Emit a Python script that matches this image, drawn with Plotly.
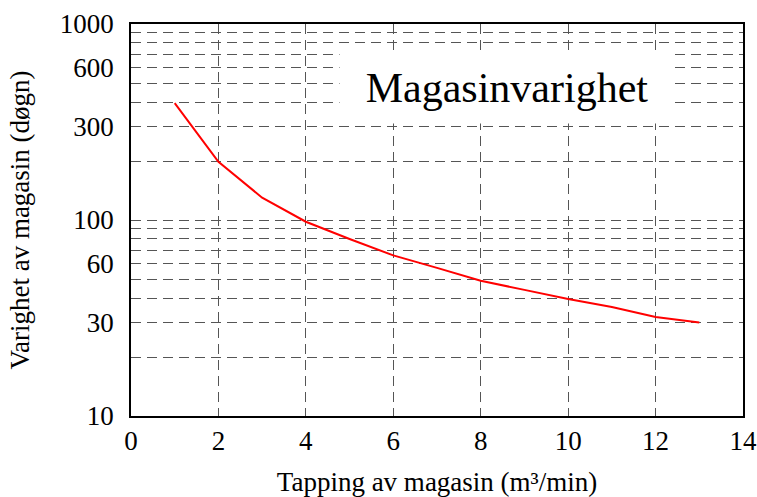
import plotly.graph_objects as go

# Data
tapping = [1, 2, 3, 4, 5, 6, 7, 8, 9, 10, 11, 12, 13]
varighet = [395, 198, 130, 98, 80, 66, 57, 49, 44, 39.5, 36, 32, 30]

y_tickvals = [10, 20, 30, 40, 50, 60, 70, 80, 90,
              100, 200, 300, 400, 500, 600, 700, 800, 900, 1000]
y_ticktext = ["10", "", "30", "", "", "60", "", "", "",
              "100", "", "300", "", "", "600", "", "", "", "1000"]
x_tickvals = [0, 2, 4, 6, 8, 10, 12, 14]

FONT = "Liberation Serif, Times New Roman, serif"

fig = go.Figure()
fig.add_trace(go.Scatter(
    x=tapping, y=varighet, mode="lines",
    line=dict(color="#ff0000", width=2),
    showlegend=False, hoverinfo="skip"))

grid = dict(showgrid=True, gridcolor="#555555", griddash="10px,6px", gridwidth=1)

fig.update_layout(
    width=757, height=497,
    margin=dict(l=131, r=14, t=24, b=81),
    paper_bgcolor="white", plot_bgcolor="white",
    font=dict(family=FONT, size=27, color="black"),
    xaxis=dict(range=[0, 14], tickvals=x_tickvals, **grid, automargin=False,
               showline=True, linecolor="black", linewidth=1.5, mirror=True,
               zeroline=False, ticks="", ticklen=0, ticklabelstandoff=0,
               tickfont=dict(family=FONT, size=27),
               title=dict(text="Tapping av magasin (m³/min)", font=dict(family=FONT, size=27), standoff=20)),
    yaxis=dict(type="log", range=[1, 3], tickvals=y_tickvals, ticktext=y_ticktext, **grid, automargin=False,
               showline=True, linecolor="black", linewidth=1.5, mirror=True,
               zeroline=False, ticks="", ticklen=0, ticklabelstandoff=10,
               tickfont=dict(family=FONT, size=27),
               title=dict(text="Varighet av magasin (døgn)", font=dict(family=FONT, size=27), standoff=22)),
)

fig.add_annotation(
    x=0.614, y=0.837, xref="paper", yref="paper",
    text="Magasinvarighet", showarrow=False,
    font=dict(family=FONT, size=42, color="black"),
    bgcolor="white", width=330, height=66, borderpad=2,
    xanchor="center", yanchor="middle")

fig.write_html("out.html")
